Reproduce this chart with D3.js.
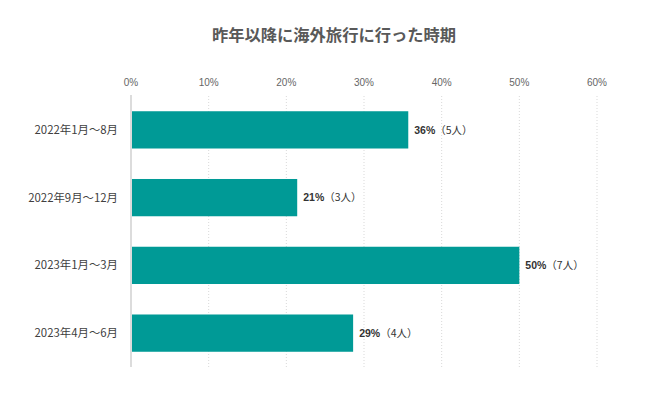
<!DOCTYPE html>
<html><head><meta charset="utf-8">
<script src="https://cdn.jsdelivr.net/npm/d3@7"></script>
<style>
body{margin:0;background:#fff;}
svg{display:block;font-family:"Noto Sans CJK JP","Noto Sans",sans-serif;}
</style></head>
<body><svg id="c" width="667" height="396"></svg>
<script>
const title = "昨年以降に海外旅行に行った時期";
const categories = ["2022年1月～8月","2022年9月～12月","2023年1月～3月","2023年4月～6月"];
const values = [35.7, 21.4, 50, 28.6];
const counts = [5, 3, 7, 4];
const valueLabels = ["36%","21%","50%","29%"];
const ticks = [0,10,20,30,40,50,60];

(function(){
const svg = d3.select("#c");
const mL = 131, mR = 597, mT = 96, mB = 367;
const x = d3.scaleLinear().domain([0,60]).range([mL,mR]);
const y = d3.scaleBand().domain(categories).range([mT,mB]).paddingInner(0.45).paddingOuter(0.225);

svg.append("text").attr("x",334).attr("y",41).attr("text-anchor","middle")
  .attr("font-size",16.3).attr("font-weight","bold").attr("fill","#595959").text(title);

svg.append("g").selectAll("line").data(ticks.filter(t=>t>0)).join("line")
  .attr("x1",d=>x(d)).attr("x2",d=>x(d)).attr("y1",mT).attr("y2",mB)
  .attr("stroke","#d9d9d9").attr("stroke-width",1).attr("stroke-dasharray","1,2");

svg.append("g").selectAll("text").data(ticks).join("text")
  .attr("x",d=>x(d)).attr("y",86).attr("text-anchor","middle")
  .attr("font-size",10).attr("fill","#666").attr("font-family","Liberation Sans, Arial, sans-serif")
  .text(d=>d+"%");

svg.append("g").selectAll("rect").data(values).join("rect")
  .attr("x",x(0)).attr("y",(d,i)=>y(categories[i]))
  .attr("width",d=>x(d)-x(0)).attr("height",y.bandwidth())
  .attr("fill","#009a96");

svg.append("line").attr("x1",mL).attr("x2",mL).attr("y1",mT-1).attr("y2",mB)
  .attr("stroke","#dcdcdc").attr("stroke-width",2);

svg.append("g").selectAll("text").data(categories).join("text")
  .attr("x",mL-13).attr("y",d=>y(d)+y.bandwidth()/2).attr("dy","0.35em")
  .attr("text-anchor","end").attr("font-size",11.4).attr("fill","#404040").text(d=>d);

const vl = svg.append("g").selectAll("text").data(values).join("text")
  .attr("x",d=>x(d)+6).attr("y",(d,i)=>y(categories[i])+y.bandwidth()/2).attr("dy","0.35em")
  .attr("font-size",10.5).attr("fill","#333");
vl.append("tspan").attr("font-weight","bold").attr("font-family","Liberation Sans, Arial, sans-serif").text((d,i)=>valueLabels[i]);
vl.append("tspan").text((d,i)=>"（"+counts[i]+"人）");
})();
</script></body></html>
